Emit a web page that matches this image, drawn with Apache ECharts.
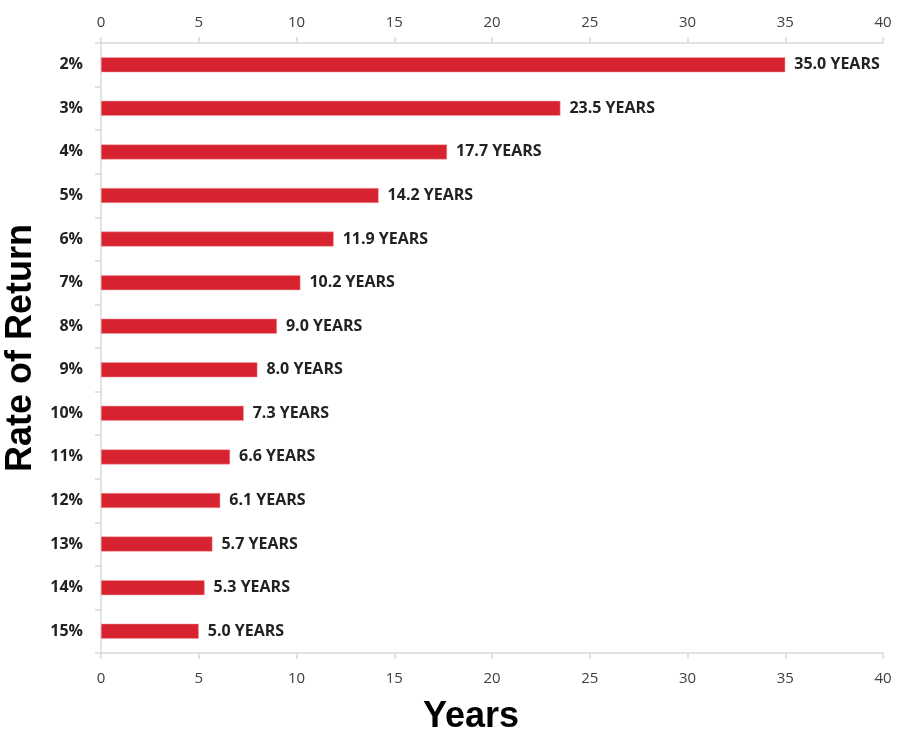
<!DOCTYPE html>
<html><head><meta charset="utf-8">
<script src="https://cdn.jsdelivr.net/npm/echarts@6/dist/echarts.min.js"></script>
<style>html,body{margin:0;padding:0;background:#fff}#c{width:897px;height:730px}</style>
</head><body><div id="c"></div>
<script>
var categories = ['2%','3%','4%','5%','6%','7%','8%','9%','10%','11%','12%','13%','14%','15%'];
var years = [35.0,23.5,17.7,14.2,11.9,10.2,9.0,8.0,7.3,6.6,6.1,5.7,5.3,5.0];
var xTicks = {min:0, max:40, interval:5};

var chart = echarts.init(document.getElementById('c'));
var axisCommon = {
  type:'value', min:xTicks.min, max:xTicks.max, interval:xTicks.interval,
  axisLine:{show:true, lineStyle:{color:'#d9d9d9', width:1.5}},
  axisTick:{show:true, length:6, lineStyle:{color:'#d9d9d9', width:1.5}},
  splitLine:{show:false},
  axisLabel:{color:'#404040', fontFamily:'Open Sans', fontSize:15}
};
chart.setOption({
  animation:false,
  grid:{left:101, right:14, top:43, bottom:77, containLabel:false, outerBoundsMode:'none'},
  xAxis:[
    Object.assign({}, axisCommon, {position:'top', axisLabel:Object.assign({}, axisCommon.axisLabel, {margin:13})}),
    Object.assign({}, axisCommon, {position:'bottom', axisLabel:Object.assign({}, axisCommon.axisLabel, {margin:18}),
      name:'Years', nameLocation:'middle', nameGap:46,
      nameTextStyle:{fontFamily:'Liberation Sans', fontWeight:'bold', fontSize:36, color:'#000', padding:[0,42,0,0]}})
  ],
  yAxis:{
    type:'category', data:categories, inverse:true,
    axisLine:{show:true, lineStyle:{color:'#d9d9d9', width:1.5}},
    axisTick:{show:true, length:6, lineStyle:{color:'#d9d9d9', width:1.5}},
    axisLabel:{color:'#222', fontFamily:'Open Sans', fontWeight:'bold', fontSize:16, margin:18},
    name:'Rate of Return', nameLocation:'middle', nameGap:59, nameRotate:90,
    nameTextStyle:{fontFamily:'Liberation Sans', fontWeight:'bold', fontSize:36, color:'#000'}
  },
  series:[{
    type:'bar', data:years, xAxisIndex:0, barWidth:15,
    itemStyle:{color:'#d7222f', borderColor:'#f0a0a5', borderWidth:0.5},
    label:{show:true, position:'right', distance:9, color:'#222', fontFamily:'Open Sans', fontWeight:'bold', fontSize:16,
      formatter:function(p){return p.value.toFixed(1)+' YEARS';}}
  }]
});
</script></body></html>
